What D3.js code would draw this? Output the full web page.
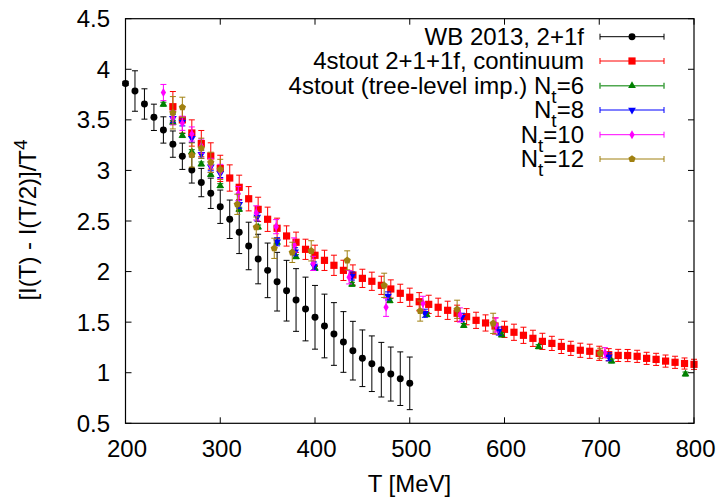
<!DOCTYPE html>
<html>
<head>
<meta charset="utf-8">
<script src="https://cdn.jsdelivr.net/npm/d3@7"></script>
<style>
    body { margin: 0; background: #fff; }
    text { font-family: "Liberation Sans", Arial, Helvetica, sans-serif; fill: #000; }
</style>
</head>
<body>
<svg id="chart" width="719" height="498"></svg>
<script>
'use strict';

// WB 2013, 2+1f
const wbT = [200, 210, 220, 230, 240, 250, 260, 270, 280, 290, 300, 310, 320, 330, 340, 350,
    360, 370, 380, 390, 400, 410, 420, 430, 440, 450, 460, 470, 480, 490, 500];
const wbV = [3.86, 3.785, 3.657, 3.525, 3.40, 3.26, 3.14, 3.005, 2.88, 2.774, 2.641, 2.517, 2.388, 2.253, 2.124, 2.012,
    1.90, 1.811, 1.719, 1.63, 1.548, 1.462, 1.383, 1.304, 1.218, 1.143, 1.089, 1.03, 0.987, 0.941, 0.895];
const wbE = [0.02, 0.2, 0.15, 0.13, 0.13, 0.13, 0.13, 0.13, 0.14, 0.15, 0.165, 0.19, 0.21, 0.235, 0.245, 0.27,
    0.29, 0.30, 0.31, 0.315, 0.315, 0.315, 0.31, 0.30, 0.29, 0.28, 0.275, 0.27, 0.267, 0.265, 0.26];

// 4stout 2+1+1f, continuum
const contT = [250, 260, 270, 280, 290, 300, 310, 320, 330, 340, 350, 360, 370, 380, 390, 400, 410, 420, 430, 440,
    450, 460, 470, 480, 490, 500, 510, 520, 530, 540, 550, 560, 570, 580, 590, 600, 610, 620, 630, 640,
    650, 660, 670, 680, 690, 700, 710, 720, 730, 740, 750, 760, 770, 780, 790, 800];
const contV = [3.63, 3.50, 3.37, 3.265, 3.143, 3.02, 2.925, 2.833, 2.72, 2.615, 2.517, 2.428, 2.352, 2.29, 2.22, 2.161, 2.111, 2.062, 2.012, 1.966,
    1.933, 1.904, 1.864, 1.828, 1.785, 1.746, 1.702, 1.676, 1.647, 1.617, 1.588, 1.554, 1.518, 1.492, 1.462, 1.429, 1.40, 1.37, 1.34, 1.31,
    1.29, 1.26, 1.241, 1.222, 1.212, 1.192, 1.178, 1.171, 1.17, 1.162, 1.142, 1.132, 1.115, 1.103, 1.091, 1.083];
const contE = [0.15, 0.13, 0.13, 0.13, 0.13, 0.13, 0.13, 0.12, 0.12, 0.12, 0.12, 0.1, 0.1, 0.1, 0.1, 0.1, 0.1, 0.1, 0.1, 0.1,
    0.09, 0.09, 0.09, 0.09, 0.09, 0.09, 0.09, 0.09, 0.09, 0.09, 0.08, 0.08, 0.08, 0.08, 0.08, 0.08, 0.08, 0.08, 0.08, 0.08,
    0.07, 0.07, 0.07, 0.07, 0.07, 0.07, 0.06, 0.06, 0.06, 0.06, 0.06, 0.06, 0.06, 0.06, 0.055, 0.05];

// 4stout (tree-level imp.) Nt=6
const nt6T = [240, 250, 260, 270, 280, 290, 300, 320, 340, 360, 380, 400, 439, 479, 518, 557, 597, 636, 713, 791];
const nt6V = [3.654, 3.475, 3.345, 3.185, 3.064, 2.96, 2.849, 2.616, 2.44, 2.29, 2.147, 2.032, 1.874, 1.712, 1.574, 1.467, 1.374, 1.257, 1.115, 0.987];
const nt6E = [0.02, 0.02, 0.02, 0.02, 0.02, 0.02, 0.02, 0.02, 0.02, 0.02, 0.02, 0.02, 0.02, 0.02, 0.02, 0.02, 0.02, 0.02, 0.02, 0.02];

// Nt=8
const nt8T = [250, 260, 270, 280, 290, 300, 320, 339, 360, 379, 399, 439, 477, 516, 555, 594, 710];
const nt8V = [3.515, 3.48, 3.317, 3.16, 3.037, 2.97, 2.665, 2.54, 2.295, 2.196, 2.055, 1.956, 1.759, 1.588, 1.548, 1.412, 1.158];
const nt8E = [0.04, 0.04, 0.04, 0.04, 0.04, 0.04, 0.04, 0.04, 0.04, 0.04, 0.04, 0.04, 0.04, 0.04, 0.04, 0.04, 0.04];

// Nt=10
const nt10T = [240, 250, 260, 270, 280, 290, 300, 319, 338, 359, 378, 398, 436, 475, 514, 553, 591, 706];
const nt10V = [3.77, 3.52, 3.466, 3.36, 3.24, 3.05, 2.99, 2.77, 2.58, 2.444, 2.263, 2.081, 1.944, 1.647, 1.686, 1.571, 1.472, 1.198];
const nt10E = [0.08, 0.07, 0.07, 0.07, 0.07, 0.07, 0.07, 0.07, 0.07, 0.07, 0.07, 0.07, 0.066, 0.09, 0.07, 0.07, 0.07, 0.05];

// Nt=12
const nt12T = [250, 260, 270, 280, 290, 300, 318, 338, 357, 376, 396, 434, 473, 511, 550, 588, 701];
const nt12V = [3.57, 3.624, 3.152, 3.219, 3.08, 3.01, 2.665, 2.44, 2.23, 2.19, 2.205, 2.111, 1.864, 1.61, 1.627, 1.488, 1.192];
const nt12E = [0.16, 0.1, 0.12, 0.1, 0.1, 0.1, 0.1, 0.1, 0.1, 0.1, 0.1, 0.094, 0.12, 0.1, 0.09, 0.1, 0.05];

// Axis ticks
const xTicks = [200, 300, 400, 500, 600, 700, 800];
const yTicks = [0.5, 1, 1.5, 2, 2.5, 3, 3.5, 4, 4.5];

(function () {

    const svg = d3.select('#chart');

    // Plot frame
    const left = 125.5, right = 694, top = 18.7, bottom = 423.3;

    const scX = d3.scaleLinear().domain([200, 800]).range([left, right]);
    const scY = d3.scaleLinear().domain([0.5, 4.5]).range([bottom, top]);

    // Pentagon symbol (gnuplot pt 15)
    const symbolPentagon = {
        draw(ctx, size) {
            const r = Math.sqrt(size / 2.378);
            for (let i = 0; i < 5; i++) {
                const a = -Math.PI / 2 + i * 2 * Math.PI / 5;
                const px = r * Math.cos(a), py = r * Math.sin(a);
                if (i === 0) ctx.moveTo(px, py); else ctx.lineTo(px, py);
            }
            ctx.closePath();
        }
    };

    const series = [
        {name: 'wb', T: wbT, V: wbV, E: wbE, color: '#000000', bar: '#000000', line: '#000000', sym: d3.symbolCircle, size: 38, rot: 0},
        {name: 'cont', T: contT, V: contV, E: contE, color: '#ff0000', bar: '#ff0000', line: '#ff0000', sym: d3.symbolSquare, size: 52, rot: 0},
        {name: 'nt6', T: nt6T, V: nt6V, E: nt6E, color: '#008000', bar: '#008000', line: '#50a850', sym: d3.symbolTriangle, size: 26, rot: 0},
        {name: 'nt8', T: nt8T, V: nt8V, E: nt8E, color: '#0000ff', bar: '#0000ff', line: '#0000ff', sym: d3.symbolTriangle, size: 26, rot: 180},
        {name: 'nt10', T: nt10T, V: nt10V, E: nt10E, color: '#ff00ff', bar: '#ff00ff', line: '#ff00ff', sym: d3.symbolDiamond, size: 24, rot: 0},
        {name: 'nt12', T: nt12T, V: nt12V, E: nt12E, color: '#a08010', bar: '#a08010', line: '#a08010', sym: symbolPentagon, size: 34, rot: 0}
    ];

    // Ticks on all four sides
    const ticks = svg.append('g').attr('class', 'ticks')
        .attr('stroke', '#000').attr('stroke-width', 1);
    xTicks.forEach((t) => {
        ticks.append('line').attr('x1', scX(t)).attr('x2', scX(t)).attr('y1', bottom).attr('y2', bottom - 6);
        ticks.append('line').attr('x1', scX(t)).attr('x2', scX(t)).attr('y1', top).attr('y2', top + 6);
    });
    yTicks.forEach((t) => {
        ticks.append('line').attr('x1', left).attr('x2', left + 6).attr('y1', scY(t)).attr('y2', scY(t));
        ticks.append('line').attr('x1', right).attr('x2', right - 6).attr('y1', scY(t)).attr('y2', scY(t));
    });

    // Tick labels
    svg.append('g').selectAll('text')
        .data(xTicks)
        .enter()
        .append('text')
            .attr('x', (d) => scX(d) + 1.5)
            .attr('y', 457)
            .attr('text-anchor', 'middle')
            .style('font-size', '24px')
            .text((d) => d);

    svg.append('g').selectAll('text')
        .data(yTicks)
        .enter()
        .append('text')
            .attr('x', 110)
            .attr('y', (d) => scY(d) + 8.5)
            .attr('text-anchor', 'end')
            .style('font-size', '24px')
            .text((d) => d);

    // Axis titles
    svg.append('text')
        .attr('x', 409.5)
        .attr('y', 491.7)
        .attr('text-anchor', 'middle')
        .style('font-size', '24px')
        .text('T [MeV]');

    const yTitle = svg.append('text')
        .attr('transform', 'translate(36, 220) rotate(-90)')
        .attr('text-anchor', 'middle')
        .style('font-size', '24px');
    yTitle.append('tspan').text('[I(T) - I(T/2)]/T');
    yTitle.append('tspan').attr('dy', -9).style('font-size', '19px').text('4');

    // Data: error bars then points, series by series
    const cap = 3;
    const plot = svg.append('g').attr('class', 'plot');
    series.forEach((s) => {
        const rows = s.T.map((t, i) => ({t: t, v: s.V[i], e: s.E[i]}));
        const g = plot.append('g').attr('class', s.name);

        const bars = g.append('g')
            .attr('stroke', s.bar)
            .attr('stroke-width', 1)
            .attr('fill', 'none');
        bars.selectAll('path')
            .data(rows)
            .enter()
            .append('path')
                .attr('d', (d) => {
                    const x = scX(d.t), y0 = scY(d.v - d.e), y1 = scY(d.v + d.e);
                    return `M${x},${y0}V${y1}M${x - cap},${y0}H${x + cap}M${x - cap},${y1}H${x + cap}`;
                });

        g.append('g').selectAll('path')
            .data(rows)
            .enter()
            .append('path')
                .attr('transform', (d) => `translate(${scX(d.t)},${scY(d.v)}) rotate(${s.rot})`)
                .attr('d', d3.symbol().type(s.sym).size(s.size))
                .style('fill', s.color);
    });

    // Frame
    svg.append('rect')
        .attr('x', left)
        .attr('y', top)
        .attr('width', right - left)
        .attr('height', bottom - top)
        .attr('fill', 'none')
        .attr('stroke', '#000')
        .attr('stroke-width', 1.2);

    // Legend
    const legendRows = [
        {label: ['WB 2013, 2+1f']},
        {label: ['4stout 2+1+1f, continuum']},
        {label: ['4stout (tree-level imp.) N', 't', '=6']},
        {label: ['N', 't', '=8']},
        {label: ['N', 't', '=10']},
        {label: ['N', 't', '=12']}
    ];
    const legendY = [36.7, 61, 85.7, 110, 134.7, 159];

    const legend = svg.append('g').attr('class', 'legend');
    legendRows.forEach((row, i) => {
        const s = series[i];
        const y = legendY[i];
        const txt = legend.append('text')
            .attr('x', 584)
            .attr('y', y + 8.3)
            .attr('text-anchor', 'end')
            .style('font-size', '24px');
        txt.append('tspan').text(row.label[0]);
        if (row.label.length > 1) {
            txt.append('tspan').attr('dy', 9).style('font-size', '19px').text(row.label[1]);
            txt.append('tspan').attr('dy', -9).text(row.label[2]);
        }

        legend.append('path')
            .attr('d', `M600,${y}H664M600,${y - cap}V${y + cap}M664,${y - cap}V${y + cap}`)
            .attr('stroke', s.line)
            .attr('stroke-width', i === 2 ? 1.6 : 1)
            .attr('fill', 'none');
        legend.append('path')
            .attr('transform', `translate(632,${y}) rotate(${s.rot})`)
            .attr('d', d3.symbol().type(s.sym).size(s.size))
            .style('fill', s.color);
    });

})();
</script>
</body>
</html>
